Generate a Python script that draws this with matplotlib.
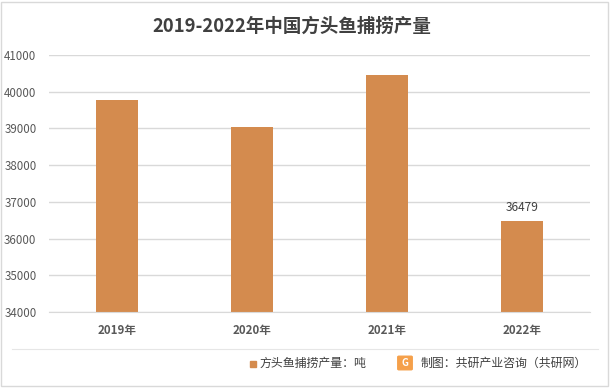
import matplotlib
matplotlib.use('Agg')
import matplotlib.pyplot as plt
from matplotlib.patches import Rectangle, FancyBboxPatch
from matplotlib.lines import Line2D

plt.rcParams['font.family'] = ['Noto Sans CJK SC', 'DejaVu Sans']

years = ['2019年', '2020年', '2021年', '2022年']
output = [39780, 39030, 40460, 36479]
yticks = [34000, 35000, 36000, 37000, 38000, 39000, 40000, 41000]

bar_color = '#D48B4E'
grid_color = '#D9D9D9'
text_color = '#595959'

fig = plt.figure(figsize=(6.13, 3.89), dpi=100)
ax = fig.add_axes([0.080, 0.198, 0.882, 0.661])

x = range(len(years))
ax.bar(x, output, width=0.31, color=bar_color, zorder=3)
ax.set_ylim(34000, 41000)
ax.set_xlim(-0.5, len(years) - 0.5)
ax.set_yticks(yticks)
ax.set_yticklabels([str(v) for v in yticks], fontsize=8.3, color=text_color)
ax.set_xticks(list(x))
ax.set_xticklabels(years, fontsize=8.3, color=text_color, fontweight='bold')
ax.tick_params(axis='both', length=0)
ax.tick_params(axis='x', pad=9)
ax.tick_params(axis='y', pad=9)
ax.grid(axis='y', color=grid_color, linewidth=1, zorder=0)
for s in ['top', 'right', 'left']:
    ax.spines[s].set_visible(False)
ax.spines['bottom'].set_color(grid_color)
ax.spines['bottom'].set_zorder(4)

# label on last bar only
ax.annotate(str(output[-1]), (3, output[-1]), xytext=(0, 5), textcoords='offset points',
            ha='center', va='bottom', fontsize=8.6, color='#404040')

fig.text(0.476, 0.932, '2019-2022年中国方头鱼捕捞产量', ha='center', va='center',
         fontsize=13.3, fontweight='bold', color='#404040')

# bottom separator and legend
fig.add_artist(Line2D([0.02, 0.975], [1 - 349 / 389, 1 - 349 / 389], color='#E6E6E6', linewidth=0.8))
fig.add_artist(Rectangle((250 / 613, 1 - 367 / 389), 6 / 613, 6 / 389, color=bar_color, transform=fig.transFigure))
fig.text(259 / 613, 1 - 363 / 389, '方头鱼捕捞产量：吨', ha='left', va='center', fontsize=8.6, color='#404040')
fig.add_artist(FancyBboxPatch((399 / 613, 1 - 369 / 389), 12 / 613, 12 / 389,
                              boxstyle='round,pad=0.002', color='#F5A04A', transform=fig.transFigure))
fig.text(405 / 613, 1 - 363 / 389, 'G', ha='center', va='center', fontsize=7, fontweight='bold', color='white')
fig.text(421 / 613, 1 - 363 / 389, '制图：共研产业咨询（共研网）', ha='left', va='center', fontsize=8.6, color='#404040')

# outer border
fig.add_artist(Rectangle((1 / 613, 3 / 389), 607 / 613, 384 / 389, fill=False, edgecolor='#D9D9D9',
                         linewidth=1, transform=fig.transFigure))

fig.savefig('out.png', dpi=100, facecolor='white')
